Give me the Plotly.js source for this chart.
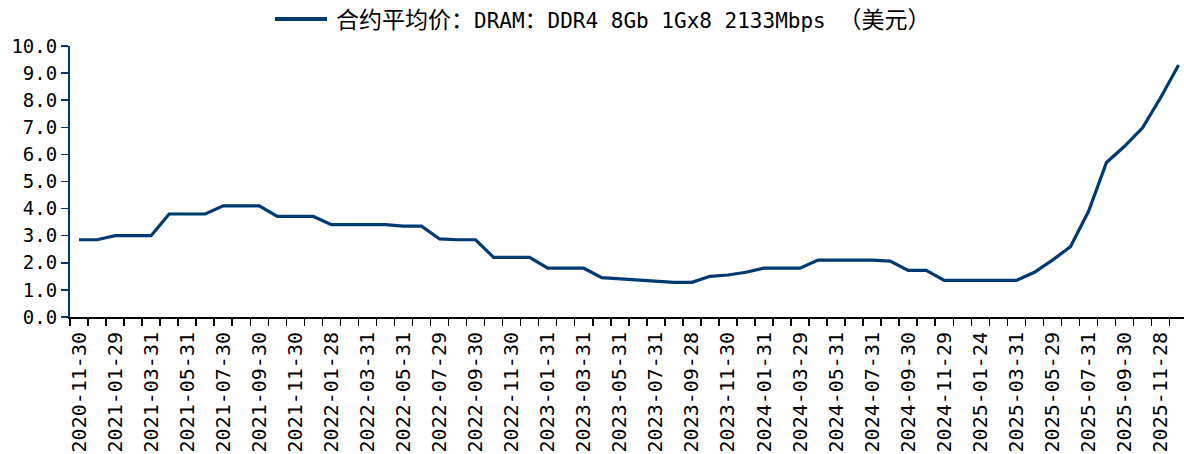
<!DOCTYPE html>
<html>
<head>
<meta charset="utf-8">
<script src="https://cdn.plot.ly/plotly-3.0.1.min.js"></script>
<style>html,body{margin:0;padding:0;background:#fff;}#chart{width:1184px;height:454px;}</style>
</head>
<body>
<div id="chart"></div>
<script>
const seriesName = '合约平均价：DRAM：DDR4 8Gb 1Gx8 2133Mbps （美元）';
const dates = [
  '2020-11-30','2020-12-31','2021-01-29','2021-02-26','2021-03-31','2021-04-30',
  '2021-05-31','2021-06-30','2021-07-30','2021-08-31','2021-09-30','2021-10-29',
  '2021-11-30','2021-12-31','2022-01-28','2022-02-28','2022-03-31','2022-04-29',
  '2022-05-31','2022-06-30','2022-07-29','2022-08-31','2022-09-30','2022-10-31',
  '2022-11-30','2022-12-30','2023-01-31','2023-02-28','2023-03-31','2023-04-28',
  '2023-05-31','2023-06-30','2023-07-31','2023-08-31','2023-09-28','2023-10-31',
  '2023-11-30','2023-12-29','2024-01-31','2024-02-29','2024-03-29','2024-04-30',
  '2024-05-31','2024-06-28','2024-07-31','2024-08-30','2024-09-30','2024-10-31',
  '2024-11-29','2024-12-31','2025-01-24','2025-02-28','2025-03-31','2025-04-30',
  '2025-05-29','2025-06-30','2025-07-31','2025-08-29','2025-09-30','2025-10-31',
  '2025-11-28','2025-12-31'
];
const prices = [
  2.85, 2.85, 3.00, 3.00, 3.00, 3.80,
  3.80, 3.80, 4.10, 4.10, 4.10, 3.71,
  3.71, 3.71, 3.41, 3.41, 3.41, 3.41,
  3.35, 3.35, 2.88, 2.85, 2.85, 2.20,
  2.20, 2.20, 1.80, 1.80, 1.80, 1.45,
  1.40, 1.36, 1.33, 1.28, 1.28, 1.50,
  1.55, 1.65, 1.80, 1.80, 1.80, 2.10,
  2.10, 2.10, 2.10, 2.06, 1.72, 1.72,
  1.35, 1.35, 1.35, 1.35, 1.35, 1.65,
  2.10, 2.59, 3.89, 5.70, 6.30, 6.98,
  8.09, 9.30
];
const tickLabels = dates.map((d, i) => (i % 2 === 0 ? d : ''));
const yTicks = [0,1,2,3,4,5,6,7,8,9,10];

const navy = '#003a70';
const monoFont = 'DejaVu Sans Mono, Liberation Mono, monospace';
// legend label: CJK parts slightly larger, as in the reference
const legendHtml = seriesName
  .replace('合约平均价：', '<span style="font-size:23px">合约平均价：</span>')
  .replace('DRAM：', 'DRAM<span style="font-size:23px">：</span>')
  .replace('（美元）', '<span style="font-size:23px">（美元）</span>');

const trace = {
  x: dates, y: prices, type: 'scatter', mode: 'lines', name: seriesName,
  line: {color: navy, width: 3.2}, showlegend: false
};
const layout = {
  width: 1184, height: 454,
  margin: {l: 70, r: 0, t: 46, b: 137},
  paper_bgcolor: '#fff', plot_bgcolor: '#fff',
  font: {family: monoFont, color: '#000', size: 19},
  xaxis: {
    type: 'category', range: [-0.5, 61.3],
    tickmode: 'array', tickvals: dates, ticktext: tickLabels,
    tickangle: -90, tickson: 'boundaries', ticks: 'outside', ticklen: 7, tickwidth: 1.5, tickcolor: '#000',
    ticklabelstandoff: 5,
    showline: true, linecolor: '#000', linewidth: 2, showgrid: false, zeroline: false,
    tickfont: {family: monoFont, size: 20, color: '#000'}
  },
  yaxis: {
    range: [0, 10], tickmode: 'array', tickvals: yTicks, ticktext: yTicks.map(v => v.toFixed(1)),
    ticks: 'outside', ticklen: 7, tickwidth: 1.5, tickcolor: navy,
    showline: true, linecolor: navy, linewidth: 2, showgrid: false, zeroline: false,
    tickfont: {family: monoFont, size: 19, color: '#000'}
  },
  shapes: [{
    type: 'line', xref: 'paper', yref: 'paper',
    x0: (275 - 70) / 1114, x1: (327 - 70) / 1114, y0: (317 - 19) / 271, y1: (317 - 19) / 271,
    line: {color: navy, width: 4}
  }],
  annotations: [{
    xref: 'paper', yref: 'paper', x: (334 - 70) / 1114, y: (317 - 20) / 271,
    xanchor: 'left', yanchor: 'middle', showarrow: false, text: legendHtml,
    font: {family: 'DejaVu Sans Mono, Noto Sans CJK SC, monospace', size: 21, color: '#000'}
  }]
};
Plotly.newPlot('chart', [trace], layout, {displayModeBar: false, staticPlot: true});
</script>
</body>
</html>
